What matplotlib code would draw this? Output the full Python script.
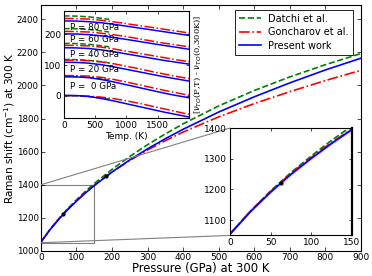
import numpy as np
import matplotlib
matplotlib.use('Agg')
import matplotlib.pyplot as plt
from mpl_toolkits.axes_grid1.inset_locator import mark_inset

# ---------------- data: main panel (Raman shift vs pressure at 300 K)
pressure = [0, 25, 50, 75, 100, 125, 150, 200, 250, 300, 350, 400, 500, 600, 700, 800, 900]
present = [1054, 1127, 1191, 1249, 1301, 1350, 1395, 1477, 1550, 1617, 1678, 1735, 1839, 1931, 2015, 2093, 2164]
datchi = [1054, 1128.5, 1195, 1255, 1309, 1360, 1407, 1493, 1571, 1642, 1707, 1768, 1876, 1969, 2051, 2125, 2192]
goncharov = [1054, 1128, 1193, 1252, 1304, 1353, 1397, 1477, 1547, 1610, 1666, 1718, 1810, 1890, 1962, 2029, 2091]
present_band = 7
dots_p = [62.5, 184]
dots_nu = [1222, 1452]

# ---------------- data: temperature inset
temp = [0, 200, 400, 600, 800, 1000, 1200, 1400, 1600, 1800, 2000]
inset_pressures = [0, 20, 40, 60, 80, 100]
blue_T = {
    0:   [1.5, 1, -2, -8.5, -16.5, -25.5, -34.5, -43.5, -52.5, -60.5, -68.5],
    20:  [62, 61.5, 59, 53, 45, 36, 27, 18, 9, 1, -6],
    40:  [109, 108.5, 106, 101, 94, 86, 78, 70, 62, 55, 48],
    60:  [156, 155.5, 153.5, 149, 143, 136, 129, 122, 115, 109, 103],
    80:  [201, 200.5, 198.5, 194.5, 189, 183, 176.5, 170, 163.5, 157.5, 151],
    100: [243, 242.5, 240.5, 237, 232, 226, 220, 214, 208, 202, 196],
}
red_T = {
    0:   [1, 0.5, -1, -4, -9, -16, -24, -33, -42, -51, -60],
    20:  [66, 65.5, 64, 60, 53, 45, 36, 27, 18, 10, 2],
    40:  [116, 115.5, 114, 110, 104, 96, 88, 79, 71, 63, 56],
    60:  [164, 163.5, 162, 158, 152, 145, 138, 131, 124, 117, 111],
    80:  [209, 208.5, 207, 203, 198, 192, 185, 178, 171, 165, 159],
    100: [251, 250.5, 249, 245, 240, 234, 228, 222, 216, 210, 204],
}
temp_d = [0, 100, 200, 300, 400, 500, 600, 723]
green_T = {
    0:   [0.5, 0.5, 0, -1, -2.5, -4.5, -7, -10.5],
    20:  [63, 63, 62.5, 61.5, 60, 58, 55.5, 52],
    40:  [118, 118, 117.5, 116.5, 115, 113, 110.5, 107],
    60:  [170, 170, 169.5, 168.5, 167, 165, 162.5, 159],
    80:  [218, 218, 217.5, 216.5, 215, 213, 210.5, 207],
    100: [259, 259, 258.5, 257.5, 256, 254, 251.5, 248],
}
label_pressures = [0, 20, 40, 60, 80]
label_values = [31, 84, 134, 183, 223]

plt.rcParams['font.family'] = ['DejaVu Sans']
plt.rcParams['xtick.direction'] = 'in'
plt.rcParams['ytick.direction'] = 'in'
plt.rcParams['xtick.top'] = True
plt.rcParams['ytick.right'] = True
plt.rcParams['mathtext.fontset'] = 'dejavusans'

fig = plt.figure(figsize=(3.72, 2.76), dpi=100)
ax = fig.add_axes([0.110, 0.0906, 0.860, 0.891])

ax.plot(pressure, datchi, '--', color='g', lw=1.2, label='Datchi et al.')
ax.plot(pressure, goncharov, '-.', color='r', lw=1.2, label='Goncharov et al.')
ax.plot(pressure, present, '-', color='b', lw=1.2, label='Present work')
ax.plot(dots_p, dots_nu, 'o', color='k', ms=2, zorder=5)
ax.set_xlim(0, 900)
ax.set_ylim(1000, 2485)
ax.set_xticks(range(0, 901, 100))
ax.set_yticks(range(1000, 2401, 200))
ax.tick_params(labelsize=6.5, length=3, width=0.5, pad=1.8)
ax.tick_params(axis='y', labelsize=6.2, pad=1.5)
ax.set_xlabel('Pressure (GPa) at 300 K', fontsize=8.4, labelpad=0)
ax.set_ylabel('Raman shift (cm$^{-1}$) at 300 K', fontsize=7.6, labelpad=0)
for s in ax.spines.values():
    s.set_linewidth(0.8)
leg = ax.legend(loc='upper right', fontsize=7, frameon=True, fancybox=False,
                edgecolor='k', framealpha=1, handlelength=2.2, borderpad=0.4,
                labelspacing=0.35, bbox_to_anchor=(0.99, 1.0))
leg.get_frame().set_linewidth(0.6)

# ---------------- temperature inset
ax1 = fig.add_axes([0.172, 0.571, 0.336, 0.389])
for p in inset_pressures:
    ax1.plot(temp_d, green_T[p], '--', color='g', lw=1.1)
    ax1.plot(temp, red_T[p], '-.', color='r', lw=1.1)
    ax1.plot(temp, blue_T[p], '-', color='b', lw=1.1)
for p, v in zip(label_pressures, label_values):
    ax1.text(100, v, 'P = %2d GPa' % p if p else 'P =  0 GPa', fontsize=6.3, va='center', ha='left')
ax1.set_xlim(0, 2000)
ax1.set_ylim(-73, 275)
ax1.set_xticks([0, 500, 1000, 1500])
ax1.set_yticks([0, 100, 200])
ax1.tick_params(labelsize=6.5, length=2.5, width=0.5, pad=2)
ax1.set_xlabel('Temp. (K)', fontsize=6.5, labelpad=1)
ax1.yaxis.set_label_position('right')
ax1.set_ylabel(r'[$\nu_{TO}$(P,T) - $\nu_{TO}$(0,300K)]', fontsize=6, labelpad=2,
               family='DejaVu Serif')
for s in ax1.spines.values():
    s.set_linewidth(0.8)

# ---------------- zoom inset
ax2 = fig.add_axes([0.618, 0.147, 0.328, 0.389])
ax2.fill_between(pressure, np.array(present) - present_band, np.array(present) + present_band,
                 color='b', alpha=0.2, lw=0)
ax2.plot(pressure, datchi, '--', color='g', lw=1.2)
ax2.plot(pressure, goncharov, '-.', color='r', lw=1.2)
ax2.plot(pressure, present, '-', color='b', lw=1.2)
ax2.plot(dots_p, dots_nu, 'o', color='k', ms=2, zorder=5)
ax2.set_xlim(0, 150)
ax2.set_ylim(1050, 1400)
ax2.set_xticks([0, 50, 100, 150])
ax2.set_yticks([1100, 1200, 1300, 1400])
ax2.tick_params(labelsize=6.5, length=2.5, width=0.5, pad=2)
for s in ax2.spines.values():
    s.set_linewidth(0.8)
ax2.spines['right'].set_linewidth(1.6)
mark_inset(ax, ax2, loc1=2, loc2=3, fc='none', ec='0.5', lw=0.8)

fig.savefig('out.png', dpi=100)
